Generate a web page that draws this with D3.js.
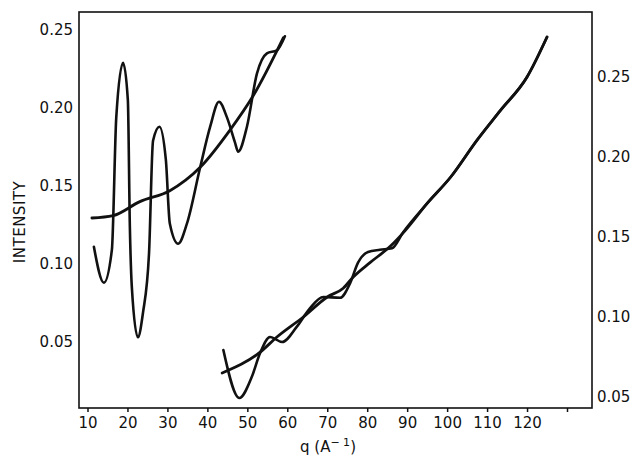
<!DOCTYPE html>
<html>
<head>
<meta charset="utf-8">
<script src="https://cdn.jsdelivr.net/npm/d3@7"></script>
<style>
  body { margin: 0; background: #fff; }
  svg text { font-family: "DejaVu Sans", sans-serif; fill: #111; }
</style>
</head>
<body>
<div id="chart"></div>
<script>
// q values and intensities
// left set (read against the left axis)
const leftOscQ = [11.6, 14.1, 16.1, 17.2, 18.9, 20.1, 20.6, 21.1, 22.6, 23.9, 25.4, 26.4, 28.0, 29.6, 30.6, 32.7, 34.9, 38.2, 40.7, 42.9, 44.9, 46.9, 47.7, 49.9, 52.4, 54.9, 57.4, 59.4];
const leftOscI = [0.111, 0.088, 0.109, 0.194, 0.229, 0.205, 0.124, 0.085, 0.053, 0.069, 0.107, 0.179, 0.188, 0.167, 0.126, 0.113, 0.126, 0.162, 0.188, 0.204, 0.194, 0.178, 0.172, 0.188, 0.222, 0.235, 0.237, 0.246];
const leftFitQ = [11.1, 16.4, 23.1, 30.6, 38.2, 45.7, 51.5, 59.0];
const leftFitI = [0.1295, 0.131, 0.140, 0.147, 0.162, 0.186, 0.208, 0.245];

// right set (read against the right axis)
const rightOscQ = [44.0, 48.0, 51.1, 53.2, 55.7, 58.7, 62.4, 65.7, 69.0, 73.2, 75.7, 77.7, 80.2, 83.2, 86.2, 89.0, 95.0, 100.9, 107.5, 113.3, 120.0, 125.0];
const rightOscI = [0.0794, 0.0494, 0.0625, 0.0775, 0.0875, 0.0844, 0.094, 0.1056, 0.1125, 0.112, 0.121, 0.134, 0.1406, 0.142, 0.143, 0.153, 0.171, 0.1875, 0.2106, 0.229, 0.25, 0.275];
const rightFitQ = [43.7, 53.2, 57.4, 64.0, 70.0, 74.0, 76.5, 80.7, 85.7, 89.5, 95.0, 100.9, 107.5, 113.3, 120.0, 125.0];
const rightFitI = [0.065, 0.078, 0.0875, 0.100, 0.1125, 0.118, 0.125, 0.134, 0.144, 0.154, 0.171, 0.1875, 0.2106, 0.229, 0.25, 0.275];

const xTicks = [10, 20, 30, 40, 50, 60, 70, 80, 90, 100, 110, 120, 130];
const xTickLabels = ["10", "20", "30", "40", "50", "60", "70", "80", "90", "100", "110", "120", ""];
const leftTicks = [0.05, 0.10, 0.15, 0.20, 0.25];
const rightTicks = [0.05, 0.10, 0.15, 0.20, 0.25];

const W = 634, H = 458;
const frame = { left: 79, right: 592, top: 12, bottom: 408 };

const svg = d3.select("#chart").append("svg")
    .attr("width", W)
    .attr("height", H);

// scales, fitted to where the printed ticks sit
const x = d3.scaleLinear().domain([10, 130]).range([87.5, 567]);
const yL = d3.scaleLinear().domain([0.05, 0.25]).range([342, 30]);
const yR = d3.scaleLinear().domain([0.05, 0.25]).range([397, 77]);

// frame
svg.append("rect")
    .attr("x", frame.left)
    .attr("y", frame.top)
    .attr("width", frame.right - frame.left)
    .attr("height", frame.bottom - frame.top)
    .attr("fill", "none")
    .attr("stroke", "#111")
    .attr("stroke-width", 1.6);

// bottom axis
const xAxis = svg.append("g")
    .attr("transform", `translate(0,${frame.bottom})`)
    .call(d3.axisBottom(x).tickValues(xTicks).tickSize(4).tickPadding(5)
        .tickFormat((d, i) => xTickLabels[i]));
xAxis.select(".domain").remove();
xAxis.selectAll("line").attr("stroke", "#111").attr("stroke-width", 1.5);
xAxis.selectAll("text").attr("font-size", 15).attr("fill", "#111");

// left axis labels
const lAxis = svg.append("g")
    .attr("transform", `translate(${frame.left},0)`)
    .call(d3.axisLeft(yL).tickValues(leftTicks).tickSize(0).tickPadding(6)
        .tickFormat(d3.format(".2f")));
lAxis.select(".domain").remove();
lAxis.selectAll("text").attr("font-size", 15).attr("fill", "#111");

// right axis labels
const rAxis = svg.append("g")
    .attr("transform", `translate(${frame.right},0)`)
    .call(d3.axisRight(yR).tickValues(rightTicks).tickSize(0).tickPadding(5)
        .tickFormat(d3.format(".2f")));
rAxis.select(".domain").remove();
rAxis.selectAll("text").attr("font-size", 15).attr("fill", "#111");

// titles
svg.append("text")
    .attr("transform", "translate(25,222) rotate(-90)")
    .attr("text-anchor", "middle")
    .attr("font-size", 15)
    .attr("letter-spacing", 0.5)
    .text("INTENSITY");

const xt = svg.append("text")
    .attr("x", 300)
    .attr("y", 452)
    .attr("font-size", 15);
xt.append("tspan").text("q  (A");
xt.append("tspan").attr("dy", -6).attr("font-size", 11).text("\u2212 1");
xt.append("tspan").attr("dy", 6).text(")");

// curves
function drawCurve(qs, is, yScale, width) {
    const pts = qs.map((q, i) => [q, is[i]]);
    const line = d3.line()
        .x(d => x(d[0]))
        .y(d => yScale(d[1]))
        .curve(d3.curveMonotoneX);
    svg.append("path")
        .datum(pts)
        .attr("d", line)
        .attr("fill", "none")
        .attr("stroke", "#111")
        .attr("stroke-width", width)
        .attr("stroke-linecap", "round")
        .attr("stroke-linejoin", "round");
}

drawCurve(leftOscQ, leftOscI, yL, 2.6);
drawCurve(leftFitQ, leftFitI, yL, 2.8);
drawCurve(rightOscQ, rightOscI, yR, 2.6);
drawCurve(rightFitQ, rightFitI, yR, 2.8);
</script>
</body>
</html>
